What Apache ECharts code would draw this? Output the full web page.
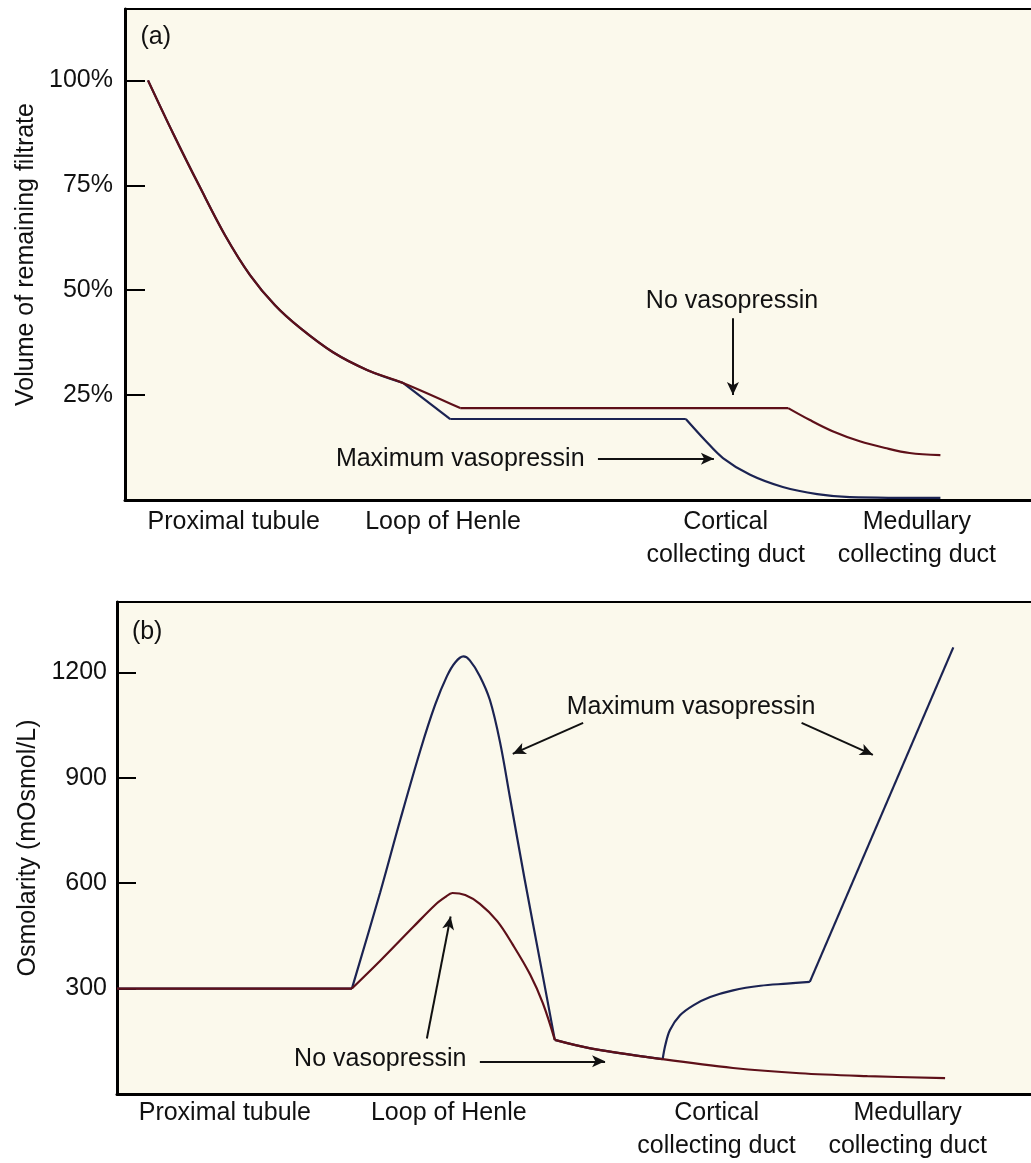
<!DOCTYPE html>
<html>
<head>
<meta charset="utf-8">
<script src="https://cdn.jsdelivr.net/npm/echarts@6/dist/echarts.min.js"></script>
<style>
html,body{margin:0;padding:0;background:#fff;}
#chart{width:1031px;height:1163px;}
</style>
</head>
<body>
<div id="chart"></div>
<script>
// ---------- DATA ----------
const stageNames = ['Proximal tubule', 'Loop of Henle', 'Cortical\ncollecting duct', 'Medullary\ncollecting duct'];
const stagePosA = [12.0, 35.1, 66.3, 87.4];
const stagePosB = [11.8, 36.3, 65.6, 86.5];

const volumeTicks = [25, 50, 75, 100];
const osmTicks = [300, 600, 900, 1200];

// (a) Volume of remaining filtrate (%)
const noVasoA = [[2.54,100],[5.3,87.4],[8.28,74.5],[11.04,63.1],[13.8,53.6],[16.56,46.4],[19.32,41.0],[22.96,35.2],[26.71,31.0],[30.68,27.9],
  [37.0,21.9],[73.2,21.9],[75.6,19.05],[78.1,16.4],[81.1,14.0],[83.9,12.4],[86.6,11.2],[90.0,10.7]];
const noVasoACorners = [10, 11];
const maxVasoA = [[2.54,100],[5.3,87.4],[8.28,74.5],[11.04,63.1],[13.8,53.6],[16.56,46.4],[19.32,41.0],[22.96,35.2],[26.71,31.0],[30.68,27.9],
  [35.9,19.3],[61.9,19.3],[64.0,14.3],[66.0,10.0],[69.0,6.0],[72.6,3.1],[76.4,1.4],[80.0,0.7],[90.0,0.5]];
const maxVasoACorners = [9, 10, 11];

// (b) Osmolarity (mOsmol/L)
const noVasoB = [[0,300],[25.7,300],[28.8,379],[32.4,475],[34.8,538],[35.9,560],[36.7,572],[38.1,566],[39.7,541],[41.6,492],[43.3,425],
  [45.2,340],[46.6,258],[47.9,154],[51.8,130],[59.7,99],[67.4,74],[74.7,59],[82.1,51],[90.6,45]];
const noVasoBCorners = [1, 13];
const maxVasoB = [[0,300],[25.7,300],[28.8,574],[31.0,781],[33.2,979],[34.8,1107],[36.1,1189],[37.0,1228],[37.9,1245],[38.6,1234],
  [39.7,1189],[40.8,1121],[41.9,1002],[43.0,843],[44.6,611],[46.3,376],[47.9,154],[51.8,130],[59.7,99],
  [60.0,140],[60.5,182],[61.6,224],[63.1,253],[64.9,276],[67.4,295],[70.4,308],[73.3,314],[75.8,319],[91.5,1271]];
const maxVasoBCorners = [1, 16, 18, 27];

// annotations: [text, x, y] in data units
const notesA = [['(a)', 3.4, 110.2], ['No vasopressin', 67.0, 47.4], ['Maximum vasopressin', 37.0, 9.8]];
const arrowsA = [[[67.1,43.3],[67.1,25.0]], [[52.2,9.8],[65.0,9.8]]];
const notesB = [['(b)', 3.3, 1313], ['Maximum vasopressin', 62.8, 1101], ['No vasopressin', 28.8, 99]];
const arrowsB = [[[51.0,1056],[43.3,968]], [[74.9,1056],[82.7,965]], [[39.7,93],[53.4,93]], [[33.9,158],[36.5,505]]];

// ---------- STYLE / BUILD ----------
const FONT = "'Liberation Sans', Arial, Helvetica, sans-serif";
const RED = '#5e1019';
const BLUE = '#1b2352';
const TXT = '#111';
const FS = 25;

function pieces(points, corners) {
  const out = [];
  let start = 0;
  corners.concat([points.length - 1]).forEach(c => {
    out.push(points.slice(start, c + 1));
    start = c;
  });
  return out;
}
function lineSeries(points, corners, color, idx, z) {
  return pieces(points, corners).map(seg => ({
    type: 'line', xAxisIndex: idx, yAxisIndex: idx, data: seg,
    smooth: 0.35, symbol: 'none', silent: true, z: z,
    lineStyle: { color: color, width: 2.2 }
  }));
}
function labelFor(v, pos) {
  for (let i = 0; i < pos.length; i++) if (Math.abs(pos[i] - v) < 1e-6) return stageNames[i];
  return '';
}
function notesSeries(notes, arrows, idx) {
  return {
    type: 'scatter', xAxisIndex: idx, yAxisIndex: idx, silent: true, z: 5,
    symbolSize: 0, itemStyle: { opacity: 1, color: TXT },
    emphasis: { disabled: true },
    data: notes.map(n => [n[1], n[2], n[0]]),
    label: { show: true, position: 'inside', formatter: p => p.data[2],
      fontSize: FS, color: TXT, opacity: 1, fontFamily: FONT },
    markLine: {
      silent: true, symbol: ['none', 'arrow'], symbolSize: [9, 13],
      lineStyle: { color: TXT, width: 2, type: 'solid', opacity: 1 },
      label: { show: false }, emphasis: { disabled: true },
      data: arrows.map(a => [{ coord: a[0] }, { coord: a[1] }])
    }
  };
}
function bottomX(grid, pos, margin) {
  return {
    gridIndex: grid, type: 'value', position: 'bottom', min: 0, max: 100,
    axisLine: { onZero: false, lineStyle: { color: '#000', width: 3 } },
    axisTick: { show: false }, splitLine: { show: false },
    axisLabel: { customValues: pos, formatter: v => labelFor(v, pos), margin: margin,
      fontSize: FS, lineHeight: 33, color: TXT, fontFamily: FONT }
  };
}
function topX(grid) {
  return {
    gridIndex: grid, type: 'value', position: 'top', min: 0, max: 100,
    axisLine: { onZero: false, lineStyle: { color: '#000', width: 2 } },
    axisTick: { show: false }, axisLabel: { show: false }, splitLine: { show: false }
  };
}
function leftY(grid, max, ticks, fmt, name, gap, margin, tickLen) {
  return {
    gridIndex: grid, type: 'value', min: 0, max: max,
    name: name, nameLocation: 'middle', nameGap: gap,
    nameTextStyle: { fontSize: FS, color: TXT, fontFamily: FONT },
    axisLine: { show: true, onZero: false, lineStyle: { color: '#000', width: 3 } },
    axisTick: { show: true, inside: true, length: tickLen, customValues: ticks,
      lineStyle: { color: '#000', width: 2 } },
    axisLabel: { customValues: ticks, formatter: fmt, margin: margin,
      fontSize: FS, color: TXT, fontFamily: FONT },
    splitLine: { show: false }
  };
}

const chart = echarts.init(document.getElementById('chart'), null, { renderer: 'canvas' });
chart.setOption({
  animation: false,
  backgroundColor: '#ffffff',
  textStyle: { fontFamily: FONT },
  grid: [
    { left: 125, top: 9, right: 0, height: 491, show: true, backgroundColor: '#FBF9EC', borderWidth: 0 },
    { left: 117, top: 602, right: 0, height: 493, show: true, backgroundColor: '#FBF9EC', borderWidth: 0 }
  ],
  xAxis: [bottomX(0, stagePosA, 6), bottomX(1, stagePosB, 3), topX(0), topX(1)],
  yAxis: [
    leftY(0, 117, volumeTicks, v => v + '%', 'Volume of remaining filtrate', 86, 12, 20),
    leftY(1, 1400, osmTicks, v => String(v), 'Osmolarity (mOsmol/L)', 73, 10, 19)
  ],
  series: [].concat(
    lineSeries(maxVasoA, maxVasoACorners, BLUE, 0, 2),
    lineSeries(noVasoA, noVasoACorners, RED, 0, 3),
    lineSeries(maxVasoB, maxVasoBCorners, BLUE, 1, 2),
    lineSeries(noVasoB, noVasoBCorners, RED, 1, 3),
    [notesSeries(notesA, arrowsA, 0), notesSeries(notesB, arrowsB, 1)]
  )
});
</script>
</body>
</html>
